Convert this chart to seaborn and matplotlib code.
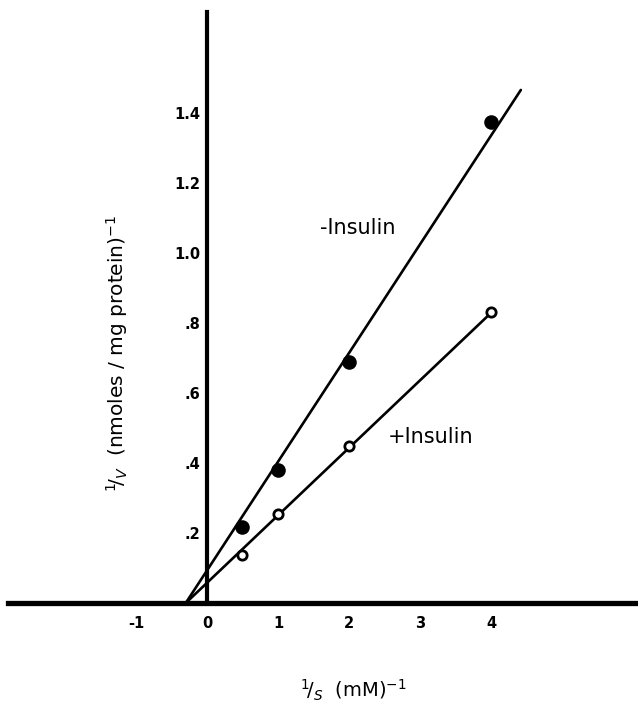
import matplotlib
matplotlib.use("Agg")
import matplotlib.pyplot as plt
import seaborn as sns
import pandas as pd

# data
inv_s = [0.5, 1.0, 2.0, 4.0]
minus_insulin = [0.217, 0.38, 0.69, 1.374]
plus_insulin = [0.137, 0.254, 0.449, 0.831]

# hand-drawn fit lines (end points)
fit_minus_x = [-0.30, 4.42]
fit_minus_y = [0.0, 1.466]
fit_plus_x = [-0.30, 4.01]
fit_plus_y = [0.0, 0.831]

xticks = [-1, 0, 1, 2, 3, 4]
xtick_labels = ["-1", "0", "1", "2", "3", "4"]
yticks = [0.2, 0.4, 0.6, 0.8, 1.0, 1.2, 1.4]
ytick_labels = [".2", ".4", ".6", ".8", "1.0", "1.2", "1.4"]

sns.set_style("white")
plt.rcParams["font.family"] = ["DejaVu Sans"]
plt.rcParams["text.color"] = "black"
plt.rcParams["axes.labelcolor"] = "black"
plt.rcParams["xtick.color"] = "black"
plt.rcParams["ytick.color"] = "black"

fig = plt.figure(figsize=(6.38, 7.06), dpi=100)
ax = fig.add_axes([0, 0, 1, 1])

pts = pd.DataFrame({
    "x": inv_s * 2,
    "y": minus_insulin + plus_insulin,
    "grp": ["minus"] * 4 + ["plus"] * 4,
})
lines = pd.DataFrame({
    "x": fit_minus_x + fit_plus_x,
    "y": fit_minus_y + fit_plus_y,
    "grp": ["minus"] * 2 + ["plus"] * 2,
})

sns.lineplot(data=lines, x="x", y="y", units="grp", estimator=None,
             color="black", linewidth=1.9, sort=False, ax=ax, legend=False)
sns.scatterplot(data=pts[pts.grp == "minus"], x="x", y="y", color="black",
                s=110, marker="o", edgecolor="black", linewidth=0, ax=ax,
                legend=False, zorder=5)
sns.scatterplot(data=pts[pts.grp == "plus"], x="x", y="y", color="white",
                s=45, marker="o", edgecolor="black", linewidth=2, ax=ax,
                legend=False, zorder=5)

ax.set_xlim(-2.915, 6.07)
ax.set_ylim(-0.294, 1.723)

for side in ["top", "right"]:
    ax.spines[side].set_visible(False)
ax.spines["left"].set_position(("data", 0))
ax.spines["bottom"].set_position(("data", 0))
ax.spines["left"].set_bounds(0, 1.69)
ax.spines["bottom"].set_bounds(-2.8, 6.07)
ax.spines["left"].set_linewidth(3.0)
ax.spines["bottom"].set_linewidth(3.8)
ax.spines["left"].set_color("black")
ax.spines["bottom"].set_color("black")

ax.set_xticks(xticks)
ax.set_xticklabels(xtick_labels, fontsize=10.5, fontweight="bold")
ax.set_yticks(yticks)
ax.set_yticklabels(ytick_labels, fontsize=10.5, fontweight="bold")
ax.tick_params(axis="x", length=0, pad=9)
ax.tick_params(axis="y", length=0, pad=5)

ax.set_xlabel(r"$^{1}\!/_{S}$  (mM)$^{-1}$", fontsize=14)
ax.set_ylabel(r"$^{1}\!/_{V}$  (nmoles / mg protein)$^{-1}$", fontsize=14.5)
ax.xaxis.set_label_coords(353 / 638, 1 - 690 / 706)
ax.yaxis.set_label_coords(117 / 638, 1 - 353 / 706)
ax.xaxis.label.set_verticalalignment("center")
ax.yaxis.label.set_verticalalignment("center")

ax.text(1.59, 1.071, "-Insulin", fontsize=15, va="center", ha="left")
ax.text(2.54, 0.474, "+Insulin", fontsize=15, va="center", ha="left")

fig.savefig("out.png", dpi=100, facecolor="white")
